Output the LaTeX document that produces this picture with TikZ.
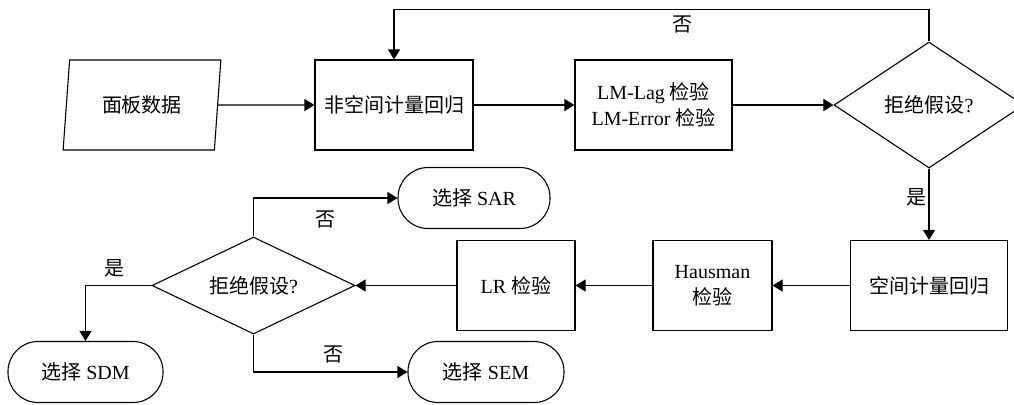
\documentclass[tikz,border=0pt]{standalone}
\usepackage{fontspec}
\setmainfont{Liberation Serif}
\newfontfamily\cjk{Noto Sans CJK SC}
\usetikzlibrary{shapes.geometric,arrows.meta}

\begin{document}
\begin{tikzpicture}[x=0.5pt,y=-0.5pt,font=\fontsize{10}{13}\selectfont,line width=0.55pt,
    every node/.style={inner sep=0pt},
    proc/.style={draw,rectangle,minimum height=45pt,align=center},
    judge/.style={draw,diamond,aspect=2},
    term/.style={draw,rectangle,rounded corners=15pt,minimum height=30.5pt},
    iobox/.style={draw,trapezium,trapezium left angle=79,trapezium right angle=101,trapezium stretches=true,minimum width=79pt,minimum height=45pt},
    arr/.style={-{Triangle[length=5pt,width=6pt]}}]
      \useasboundingbox (0,0) rectangle (1014,404);
      \node[iobox] (data) at (142,105) {\cjk 面板数据};
      \node[proc,minimum width=79pt] (ols) at (394,105) {\cjk 非空间计量回归};
      \node[proc,minimum width=78.5pt] (lm) at (653.5,105) {LM-Lag {\cjk 检验}\\LM-Error {\cjk 检验}};
      \node[judge,minimum width=95pt,minimum height=63pt] (rej1) at (929,105) {{\cjk 拒绝假设}?};
      \node[proc,minimum width=78.5pt] (sp) at (929,285.5) {\cjk 空间计量回归};
      \node[proc,minimum width=59.5pt] (haus) at (712.5,285.5) {Hausman\\{\cjk 检验}};
      \node[proc,minimum width=59pt] (lr) at (516,285.5) {LR {\cjk 检验}};
      \node[judge,minimum width=101.5pt,minimum height=48.5pt] (rej2) at (253.5,285.5) {{\cjk 拒绝假设}?};
      \node[term,minimum width=76pt] (sar) at (474,198) {{\cjk 选择} SAR};
      \node[term,minimum width=78pt] (sem) at (486,372) {{\cjk 选择} SEM};
      \node[term,minimum width=77.5pt] (sdm) at (85.5,372) {{\cjk 选择} SDM};
      \draw[arr] (data) -- (ols);
      \draw[arr] (ols) -- (lm);
      \draw[arr] (lm) -- (rej1);
      \draw[arr] (rej1.north) -- ++(0,-32) -| (ols.north) node[pos=0.23,below=3pt] {\cjk 否};
      \draw[arr] (rej1) -- node[pos=0.4,left=1pt] {\cjk 是} (sp);
      \draw[arr] (sp) -- (haus);
      \draw[arr] (haus) -- (lr);
      \draw[arr] (lr) -- (rej2);
      \draw[arr] (rej2.north) |- (sar) node[pos=0.75,below=6pt] {\cjk 否};
      \draw[arr] (rej2.south) |- (sem) node[pos=0.76,above=4pt] {\cjk 否};
      \draw[arr] (rej2.west) -| (sdm) node[pos=0.28,above=4pt] {\cjk 是};
    \end{tikzpicture}
\end{document}
